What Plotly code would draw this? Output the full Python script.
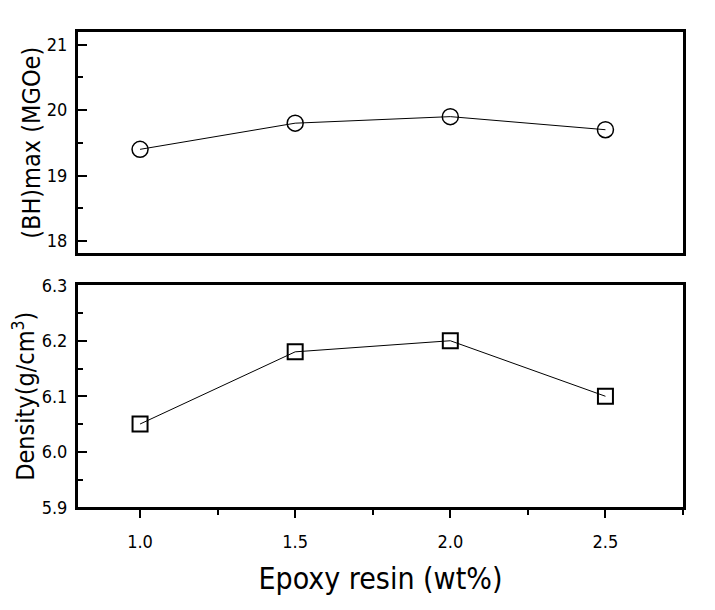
import plotly.graph_objects as go

epoxy = [1.0, 1.5, 2.0, 2.5]
bhmax = [19.4, 19.8, 19.9, 19.7]
density = [6.05, 6.18, 6.20, 6.10]

W, H = 715, 610
fig = go.Figure()
fig.add_trace(go.Scatter(x=epoxy, y=bhmax, mode="lines+markers", xaxis="x", yaxis="y",
                         line=dict(color="black", width=1),
                         marker=dict(symbol="circle-open", size=16, color="black", line=dict(width=1.5)),
                         showlegend=False))
fig.add_trace(go.Scatter(x=epoxy, y=density, mode="lines+markers", xaxis="x2", yaxis="y2",
                         line=dict(color="black", width=1),
                         marker=dict(symbol="square-open", size=15, color="black", line=dict(width=2)),
                         showlegend=False))

font = dict(family="Liberation Sans Narrow, DejaVu Sans Condensed, sans-serif", color="black")
xd = [78 / W, 683 / W]
common_x = dict(range=[0.8, 2.75], domain=xd, showline=True, linewidth=3, linecolor="black",
                mirror=True, showgrid=False, zeroline=False, tick0=1.0, dtick=0.5,
                tickformat=".1f", tickfont=dict(size=18, **font))
fig.update_layout(
    width=W, height=H, margin=dict(l=0, r=0, t=0, b=0),
    paper_bgcolor="white", plot_bgcolor="white",
    xaxis=dict(**common_x, anchor="y", showticklabels=False, ticks=""),
    xaxis2=dict(**common_x, anchor="y2", ticks="outside", ticklen=8, tickwidth=2, tickcolor="black",
                ticklabelstandoff=8,
                minor=dict(ticks="outside", dtick=0.25, ticklen=5, tickwidth=2, tickcolor="black"),
                title=dict(text="Epoxy resin (wt%)", font=dict(size=30, **font), standoff=18)),
    yaxis=dict(range=[17.81, 21.19], domain=[1 - 251 / H, 1 - 22 / H], anchor="x",
               showline=True, linewidth=3, linecolor="black", mirror=True, showgrid=False,
               zeroline=False, dtick=1, ticks="inside", ticklen=9, tickwidth=2, tickcolor="black",
               ticklabelstandoff=4,
               minor=dict(ticks="inside", dtick=0.5, ticklen=5, tickwidth=2, tickcolor="black"),
               tickfont=dict(size=18, **font),
               title=dict(text="(BH)max (MGOe)", font=dict(size=25, **font), standoff=0)),
    yaxis2=dict(range=[5.9, 6.3], domain=[1 - 514 / H, 1 - 284 / H], anchor="x2",
                showline=True, linewidth=3, linecolor="black", mirror=True, showgrid=False,
                zeroline=False, dtick=0.1, tickformat=".1f", ticks="inside", ticklen=9, tickwidth=2,
                tickcolor="black", ticklabelstandoff=4,
                minor=dict(ticks="inside", dtick=0.05, ticklen=5, tickwidth=2, tickcolor="black"),
                tickfont=dict(size=18, **font),
                title=dict(text="Density(g/cm<sup>3</sup>)", font=dict(size=25, **font), standoff=0)),
)
fig.write_html("out.html")
